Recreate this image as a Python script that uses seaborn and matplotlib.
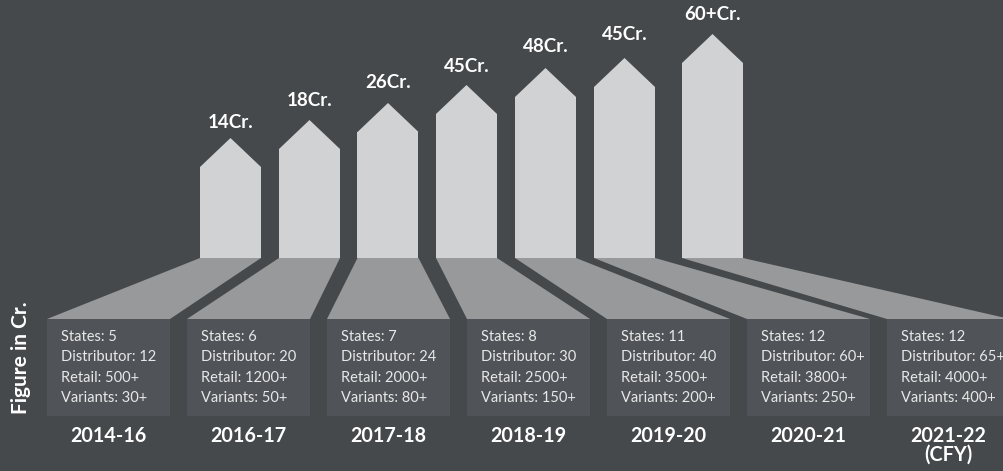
import matplotlib
matplotlib.use("Agg")
import matplotlib.pyplot as plt
from matplotlib.patches import Rectangle
import seaborn as sns
import pandas as pd
import numpy as np

# ---------------- data ----------------
periods = ["2014-16", "2016-17", "2017-18", "2018-19", "2019-20", "2020-21", "2021-22\n(CFY)"]
revenue_labels = ["14Cr.", "18Cr.", "26Cr.", "45Cr.", "48Cr.", "45Cr.", "60+Cr."]
arrow_level = [91, 109, 126, 144, 161, 171, 195]   # visual arrow heights
states = ["5", "6", "7", "8", "11", "12", "12"]
distributors = ["12", "20", "24", "30", "40", "60+", "65+"]
retail = ["500+", "1200+", "2000+", "2500+", "3500+", "3800+", "4000+"]
variants = ["30+", "50+", "80+", "150+", "200+", "250+", "400+"]

# ---------------- layout / style ----------------
W, H = 1004, 471
BG = "#45494c"
ARROW = "#d1d2d4"
CONN = "#98999b"
BOX = "#505458"
TXT = "#e8e8e8"
arrow_cx = [230.5, 309.5, 388, 466.5, 545.5, 624.5, 712.5]
arrow_w = 61
head_h = 29
base = H - 258
box_w = 123
box_x0 = [47 + 140 * i for i in range(7)]
box_top = H - 319
box_bot = H - 416
label_gap = [16, 19, 21, 18, 22, 24, 19]

sns.set_theme(style="white")
plt.rcParams["font.family"] = ["Lato", "DejaVu Sans"]

fig = plt.figure(figsize=(W / 100, H / 100), dpi=100, facecolor=BG)
ax = fig.add_axes([0, 0, 1, 1])
ax.set_facecolor(BG)

df = pd.DataFrame({"x": arrow_cx, "level": arrow_level, "label": revenue_labels})
wfrac = arrow_w / np.min(np.diff(arrow_cx))
sns.barplot(data=df, x="x", y="level", native_scale=True, width=wfrac,
            bottom=base, color=ARROW, saturation=1, errorbar=None,
            edgecolor="none", linewidth=0, ax=ax, zorder=3)

for i, (cx, lvl) in enumerate(zip(arrow_cx, arrow_level)):
    top = base + lvl
    # arrow head
    ax.fill([cx - arrow_w / 2, cx, cx + arrow_w / 2],
            [top, top + head_h, top], color=ARROW, lw=0, zorder=3)
    # connector
    ax.fill([cx - arrow_w / 2, cx + arrow_w / 2, box_x0[i] + box_w, box_x0[i]],
            [base, base, box_top, box_top], color=CONN, lw=0, zorder=2)
    # box
    ax.add_patch(Rectangle((box_x0[i], box_bot), box_w, box_top - box_bot,
                           facecolor=BOX, edgecolor="none", zorder=2))
    # revenue label
    ax.text(cx, top + head_h + label_gap[i], revenue_labels[i], ha="center", va="center",
            color="white", fontsize=13.5, fontweight="bold", zorder=5)
    # box text
    lines = [f"States: {states[i]}", f"Distributor: {distributors[i]}",
             f"Retail: {retail[i]}", f"Variants: {variants[i]}"]
    for k, t in enumerate(lines):
        ax.text(box_x0[i] + 14, H - (337 + 20.3 * k), t, ha="left", va="center",
                color=TXT, fontsize=10.5, zorder=5)
    # period label
    for k, t in enumerate(periods[i].split("\n")):
        ax.text(box_x0[i] + box_w / 2, H - (436 + 19 * k), t, ha="center", va="center",
                color="white", fontsize=14.2, fontweight="bold", zorder=5)

ax.text(21, H - 358, "Figure in Cr.", rotation=90, ha="center", va="center",
        color="white", fontsize=15, fontweight="bold")

ax.set_xlim(0, W)
ax.set_ylim(0, H)
ax.axis("off")

fig.savefig("out.png", dpi=100, facecolor=BG)
